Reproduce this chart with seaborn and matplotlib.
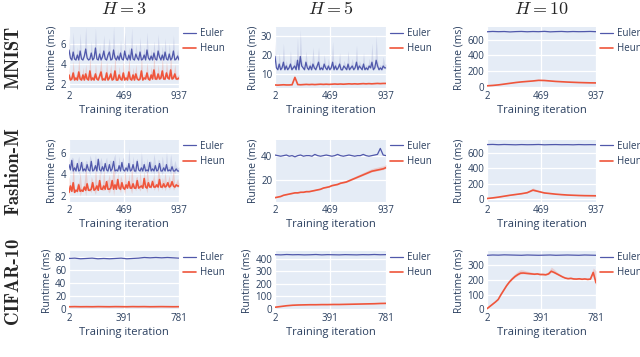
import numpy as np
import pandas as pd
import matplotlib
matplotlib.use('Agg')
import matplotlib.pyplot as plt
import seaborn as sns

# ========== DATA ==========
datasets = ['MNIST', 'Fashion-M', 'CIFAR-10']
horizons = [3, 5, 10]
n_iters = [937, 937, 781]
x_ticks = [[2, 469, 937], [2, 469, 937], [2, 391, 781]]

y_ticks = [[[2, 4, 6], [10, 20, 30], [0, 200, 400, 600]],
           [[2, 4, 6], [20, 40], [0, 200, 400, 600]],
           [[0, 20, 40, 60, 80], [0, 100, 200, 300, 400], [0, 100, 200, 300]]]
y_lims = [[(1.6, 7.7), (2.4, 34.5), (-18, 763)],
          [(1.4, 7.2), (1.4, 53), (-35, 765)],
          [(-2, 89), (-10, 461), (-4, 395)]]

# MNIST, H=3
euler_mnist_h3 = [5.4, 4.6, 4.4, 5.2, 4.5, 4.4, 4.9, 4.4, 5.3, 4.5, 4.4, 4.8, 5.5, 4.6, 4.4, 4.5, 5.1, 4.4, 4.6, 5.6,
                  4.5, 4.4, 5.0, 4.4, 4.7, 5.3, 4.5, 4.4, 4.9, 5.2, 4.4, 4.5, 5.4, 4.6, 4.4, 4.8, 4.4, 5.1, 4.5, 4.4,
                  5.3, 4.6, 4.4, 4.9, 4.4, 5.5, 4.5, 4.4, 5.0, 4.6, 4.4, 5.2, 4.4, 4.5, 4.9, 4.4, 5.4, 4.6, 4.4, 4.8,
                  4.4, 5.1, 4.5, 4.4, 5.3, 4.7, 4.4, 4.9, 4.4, 5.2, 4.5, 4.4, 5.0, 4.4, 4.6, 5.3, 4.4, 4.5, 4.8, 4.4]
heun_mnist_h3 = [2.9, 2.4, 2.5, 3.1, 2.4, 2.6, 2.4, 3.2, 2.5, 2.4, 2.9, 2.4, 3.0, 2.5, 2.4, 3.3, 2.4, 2.6, 2.4, 3.0,
                 2.5, 2.4, 2.8, 3.2, 2.4, 2.5, 2.4, 3.1, 2.4, 2.6, 3.0, 2.4, 2.5, 3.3, 2.4, 2.4, 2.9, 2.5, 2.4, 3.1,
                 2.4, 2.6, 2.4, 3.2, 2.5, 2.4, 2.9, 2.4, 3.0, 2.5, 2.4, 2.5, 3.3, 2.4, 2.6, 2.5, 3.1, 2.5, 2.4, 2.9,
                 2.5, 3.4, 2.5, 2.5, 3.0, 2.5, 2.6, 3.3, 2.5, 2.5, 3.1, 2.6, 2.5, 3.4, 2.5, 2.6, 3.0, 2.5, 2.5, 2.6]
spread_h3_a = [1.5, 0.3, 0.2, 2.0, 0.3, 0.2, 0.8, 0.2, 1.8, 0.3, 0.2, 0.6, 2.2, 0.3, 0.2, 0.3, 1.2, 0.2, 0.4, 2.0,
               0.3, 0.2, 1.0, 0.2, 0.5, 1.6, 0.3, 0.2, 0.9, 1.4, 0.2, 0.3, 2.4, 0.4, 0.2, 0.7, 0.2, 1.3, 0.3, 0.2,
               1.9, 0.4, 0.2, 0.8, 0.2, 2.1, 0.3, 0.2, 1.0, 0.4, 0.2, 1.5, 0.2, 0.3, 0.8, 0.2, 1.8, 0.4, 0.2, 0.7,
               0.2, 1.2, 0.3, 0.2, 1.7, 0.5, 0.2, 0.9, 0.2, 1.4, 0.3, 0.2, 1.1, 0.2, 0.4, 1.6, 0.2, 0.3, 0.7, 0.2]
spread_h3_b = [0.9, 0.2, 0.3, 1.2, 0.2, 0.4, 0.2, 1.4, 0.3, 0.2, 0.8, 0.2, 1.0, 0.3, 0.2, 1.5, 0.2, 0.4, 0.2, 1.1,
               0.3, 0.2, 0.7, 1.3, 0.2, 0.3, 0.2, 1.2, 0.2, 0.4, 1.0, 0.2, 0.3, 1.6, 0.2, 0.2, 0.9, 0.3, 0.2, 1.2,
               0.2, 0.4, 0.2, 1.4, 0.3, 0.2, 0.8, 0.2, 1.0, 0.3, 0.2, 0.3, 1.5, 0.2, 0.4, 0.3, 1.1, 0.3, 0.2, 0.9,
               0.3, 1.6, 0.3, 0.3, 1.0, 0.3, 0.4, 1.4, 0.3, 0.3, 1.2, 0.4, 0.3, 1.6, 0.3, 0.4, 1.0, 0.3, 0.3, 0.4]

# MNIST, H=5
euler_mnist_h5 = [19, 13, 12, 15, 12, 13, 16, 12, 14, 12, 13, 15, 12, 13, 14, 12, 17, 12, 19, 14,
                  13, 12, 16, 13, 12, 14, 12, 15, 13, 12, 14, 16, 12, 13, 12, 15, 13, 12, 14, 12,
                  13, 16, 12, 14, 12, 13, 15, 12, 12, 14, 13, 12, 15, 12, 13, 14, 12, 13, 16, 12,
                  14, 13, 12, 15, 12, 13, 12, 14, 13, 16, 12, 13, 17, 14, 12, 13, 12, 14, 13, 13]
spread_mnist_h5 = [8, 2, 1.5, 6, 1.5, 2, 10, 1.5, 3, 1.5, 2, 7, 1.5, 2, 4, 1.5, 12, 1.5, 14, 3,
                   2, 1.5, 6, 2, 1.5, 3, 1.5, 9, 2, 1.5, 3, 8, 1.5, 2, 1.5, 5, 2, 1.5, 4, 1.5,
                   2, 11, 1.5, 3, 1.5, 2, 6, 1.5, 1.5, 3, 2, 1.5, 7, 1.5, 2, 4, 1.5, 2, 9, 1.5,
                   3, 2, 1.5, 6, 1.5, 2, 1.5, 4, 2, 10, 1.5, 2, 13, 3, 1.5, 2, 1.5, 5, 2, 2]
heun_mnist_h5 = [4.0, 3.9, 4.0, 4.1, 4.0, 4.0, 4.1, 8.0, 4.2, 4.1, 4.2, 4.3, 4.2, 4.3, 4.2, 4.3, 4.4, 4.3, 4.4, 4.3,
                 4.4, 4.5, 4.4, 4.5, 4.4, 4.5, 4.6, 4.5, 4.6, 4.5, 4.6, 4.7, 4.6, 4.7, 4.6, 4.7, 4.8, 4.7, 4.8, 4.8]

# MNIST, H=10
euler_mnist_h10 = [702, 706, 703, 705, 700, 704, 706, 702, 705, 703, 707, 701, 704, 706, 702, 705, 703, 704, 706, 703]
heun_mnist_h10 = [10, 15, 22, 32, 42, 52, 60, 66, 72, 80, 78, 72, 66, 62, 58, 55, 52, 50, 48, 47]

# Fashion-MNIST, H=3
euler_fashion_h3 = [4.9, 4.4, 5.3, 4.3, 4.6, 4.3, 5.0, 4.3, 4.4, 5.1, 4.3, 4.5, 4.3, 4.9, 4.4, 4.3, 5.2, 4.3, 4.4, 4.8,
                    4.3, 5.4, 4.4, 4.3, 4.7, 4.3, 5.0, 4.4, 4.3, 4.9, 4.3, 4.5, 5.2, 4.3, 4.4, 4.3, 4.8, 4.3, 5.1, 4.4,
                    4.3, 4.6, 4.3, 5.0, 4.3, 4.4, 4.9, 4.3, 4.3, 5.2, 4.4, 4.3, 4.6, 4.3, 4.9, 4.3, 4.4, 4.3, 5.1, 4.3,
                    4.5, 4.3, 4.8, 4.3, 4.4, 5.0, 4.3, 4.3, 4.6, 4.3, 4.9, 4.3, 4.4, 4.3, 4.7, 4.3, 4.3, 4.5, 4.3, 4.3]
heun_fashion_h3 = [2.3, 2.9, 2.4, 3.2, 2.3, 2.5, 2.4, 3.0, 2.4, 2.5, 2.4, 2.8, 2.5, 3.1, 2.5, 2.5, 2.6, 3.2, 2.5, 2.6,
                   2.9, 2.5, 3.4, 2.6, 2.6, 2.9, 2.6, 3.3, 2.6, 2.6, 2.7, 3.4, 2.6, 3.0, 2.6, 3.5, 2.7, 2.6, 3.2, 2.7,
                   2.6, 3.0, 2.7, 3.3, 2.7, 2.7, 3.1, 2.7, 2.7, 3.4, 2.7, 2.8, 2.9, 2.7, 3.6, 2.8, 2.7, 3.2, 2.8, 2.8,
                   3.3, 2.8, 2.8, 3.0, 2.8, 3.5, 2.8, 2.8, 3.1, 2.8, 2.9, 3.2, 2.8, 2.9, 3.3, 2.9, 2.8, 3.0, 2.9, 2.9]

# Fashion-MNIST, H=5
euler_fashion_h5 = [40.5, 40, 39.5, 40, 40.5, 39.5, 40, 39, 40, 40.5, 39.5, 40, 40, 39.5, 41, 40, 39.5, 40, 40.5, 40,
                    39.5, 40, 41, 40, 39.5, 40, 40.5, 40, 39.5, 40, 40, 41, 40, 39.5, 40, 40.5, 41, 46, 40.5, 40]
heun_fashion_h5 = [5, 5.5, 6, 7, 7.5, 8, 8.5, 9, 9, 9.5, 9.5, 10, 10, 10.5, 11, 11.5, 12, 13, 13.5, 14,
                   15, 15.5, 16, 17, 17.5, 18, 19, 20, 21, 22, 23, 24, 25, 26, 27, 27.5, 28, 28.5, 29, 30]
spread_fashion_h5 = [0.5, 0.5, 0.5, 0.6, 0.6, 0.6, 0.7, 0.7, 0.7, 0.8, 0.8, 0.8, 0.8, 0.9, 0.9, 0.9, 1.0, 1.0, 1.0, 1.1,
                     1.1, 1.2, 1.2, 1.3, 1.3, 1.4, 1.5, 1.6, 1.6, 1.8, 1.8, 2.0, 2.0, 2.2, 2.2, 2.4, 2.4, 2.5, 2.5, 2.5]

# Fashion-MNIST, H=10
euler_fashion_h10 = [706, 708, 704, 707, 705, 703, 706, 704, 705, 707, 703, 705, 706, 704, 705, 703, 706, 704, 705, 704]
heun_fashion_h10 = [10, 18, 28, 40, 52, 62, 72, 85, 118, 100, 82, 74, 66, 60, 55, 52, 49, 47, 46, 45]
spread_fashion_h10 = [3, 4, 5, 6, 6, 7, 8, 10, 30, 14, 8, 6, 5, 5, 4, 4, 4, 4, 4, 4]

# CIFAR-10, H=3
euler_cifar_h3 = [77.5, 78, 77, 77.5, 78, 77, 77.5, 77, 77.5, 78, 77, 77.5, 78, 79, 78.5, 79, 78.5, 79, 78.5, 78]
heun_cifar_h3 = [3, 3.2, 3, 3.1, 3, 3.2, 3.1, 3, 3.2, 3.1, 3, 3.2, 3.1, 3.2, 3, 3.1, 3.2, 3.1, 3, 3.1]

# CIFAR-10, H=5
euler_cifar_h5 = [432, 430, 433, 431, 432, 430, 431, 433, 430, 432, 431, 430, 432, 431, 430, 432, 431, 433, 431, 432]
heun_cifar_h5 = [12, 18, 24, 28, 30, 31, 32, 32, 33, 33, 34, 34, 35, 36, 37, 38, 39, 40, 42, 43]

# CIFAR-10, H=10
euler_cifar_h10 = [366, 368, 367, 369, 368, 367, 366, 368, 367, 366, 367, 368, 366, 367, 368, 367, 366, 368, 367, 366]
heun_cifar_h10 = [5, 20, 35, 50, 67, 100, 130, 160, 185, 205, 222, 235, 245, 246, 244, 242, 240, 238, 240, 236,
                  236, 234, 240, 258, 250, 240, 230, 220, 212, 208, 210, 206, 205, 207, 204, 206, 203, 205, 250, 180]
spread_cifar_h10 = [2, 4, 5, 6, 8, 10, 12, 14, 16, 18, 20, 22, 24, 20, 16, 14, 12, 10, 10, 10,
                    10, 10, 14, 28, 22, 14, 10, 8, 8, 8, 8, 8, 8, 8, 8, 8, 8, 10, 30, 80]

panels = [
    [(euler_mnist_h3, spread_h3_a, heun_mnist_h3, spread_h3_b),
     (euler_mnist_h5, spread_mnist_h5, heun_mnist_h5, None),
     (euler_mnist_h10, None, heun_mnist_h10, None)],
    [(euler_fashion_h3, spread_h3_b, heun_fashion_h3, spread_h3_a),
     (euler_fashion_h5, None, heun_fashion_h5, spread_fashion_h5),
     (euler_fashion_h10, None, heun_fashion_h10, spread_fashion_h10)],
    [(euler_cifar_h3, None, heun_cifar_h3, None),
     (euler_cifar_h5, None, heun_cifar_h5, None),
     (euler_cifar_h10, None, heun_cifar_h10, spread_cifar_h10)],
]

EULER_C = '#5058ab'
HEUN_C = '#ef553b'
TEXT_C = '#2a3f5f'


def long_frame(vals, spread, x_max):
    # three rows per iteration so seaborn draws median + min/max band
    v = np.asarray(vals, float)
    x = np.linspace(2, x_max, len(v))
    s = np.zeros_like(v) if spread is None else np.asarray(spread, float)
    return pd.DataFrame({'iteration': np.tile(x, 3),
                         'runtime': np.concatenate([v - s / 4, v, v + s])})


sns.set_theme(style='darkgrid', rc={'axes.facecolor': '#E5ECF6', 'grid.color': 'white',
                                    'grid.linewidth': 0.9})
plt.rcParams['font.family'] = ['Open Sans', 'DejaVu Sans']
plt.rcParams['mathtext.fontset'] = 'cm'

fig = plt.figure(figsize=(6.4, 3.57), dpi=100)
W, H = 640, 357
col_x = [(69, 179), (275, 386), (487, 596)]
row_y = [(27, 88), (140, 202), (251, 310)]

for r in range(3):
    for c in range(3):
        x0, x1 = col_x[c]
        y0, y1 = row_y[r]
        ax = fig.add_axes([x0 / W, 1 - y1 / H, (x1 - x0) / W, (y1 - y0) / H])
        ev, es, hv, hs = panels[r][c]
        sns.lineplot(data=long_frame(ev, es, n_iters[r]), x='iteration', y='runtime', ax=ax,
                     estimator='median', errorbar=('pi', 100), color=EULER_C, lw=0.9,
                     err_kws={'alpha': 0.15, 'linewidth': 0}, label='Euler')
        sns.lineplot(data=long_frame(hv, hs, n_iters[r]), x='iteration', y='runtime', ax=ax,
                     estimator='median', errorbar=('pi', 100), color=HEUN_C, lw=1.2,
                     err_kws={'alpha': 0.2, 'linewidth': 0}, label='Heun')
        ax.set_xlim(2, n_iters[r])
        ax.set_xticks(x_ticks[r])
        ax.set_ylim(*y_lims[r][c])
        ax.set_yticks(y_ticks[r][c])
        ax.tick_params(length=0, pad=2, labelsize=7, labelcolor=TEXT_C)
        ax.set_xlabel('Training iteration', fontsize=8, color=TEXT_C, labelpad=2)
        ax.set_ylabel('Runtime (ms)', fontsize=7.5, color=TEXT_C, labelpad=2)
        for sp in ax.spines.values():
            sp.set_visible(False)
        leg = ax.legend(loc='upper left', bbox_to_anchor=(0.98, 1.08), frameon=False,
                        fontsize=7, handlelength=1.4, handletextpad=0.35, labelspacing=0.45,
                        borderaxespad=0.2)
        for t in leg.get_texts():
            t.set_color(TEXT_C)
        if r == 0:
            ax.set_title(rf'$H = {horizons[c]}$', fontsize=13, pad=9)

for r, name in enumerate(datasets):
    yc = 1 - (row_y[r][0] + row_y[r][1]) / 2 / H
    fig.text(13 / W, yc, name, rotation=90, ha='center', va='center', fontsize=13.5,
             family=['cmb10', 'DejaVu Serif'])

fig.savefig('out.png', dpi=100)
